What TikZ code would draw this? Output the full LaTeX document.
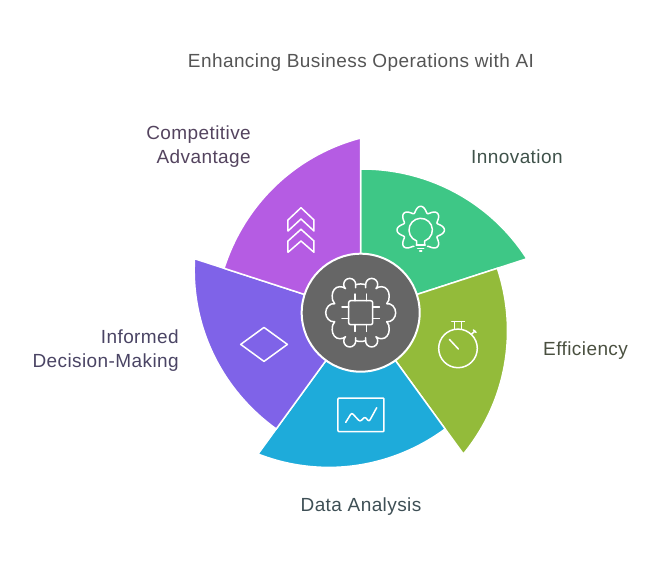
\documentclass[tikz,border=0pt]{standalone}
\usepackage{fontspec}
\setmainfont[LetterSpace=2.2]{Liberation Sans}
\definecolor{c_green}{HTML}{3EC786}
\definecolor{c_olive}{HTML}{93BB3A}
\definecolor{c_blue}{HTML}{1EABDA}
\definecolor{c_violet}{HTML}{7F63E8}
\definecolor{c_purple}{HTML}{B55CE3}
\definecolor{t_title}{HTML}{555555}
\definecolor{t_green}{HTML}{3F524A}
\definecolor{t_olive}{HTML}{4A5040}
\definecolor{t_blue}{HTML}{3E4F55}
\definecolor{t_violet}{HTML}{4A4464}
\definecolor{t_purple}{HTML}{54445F}
\begin{document}
\begin{tikzpicture}[x=1pt, y=1pt,
		wedge_style/.style={draw=white, line width=1.5pt, line join=miter},
		hub_style/.style={circle, fill=black!60, draw=white, line width=2pt, minimum size=118pt, inner sep=0pt},
		icon_style/.style={draw=white, line width=1.5pt, line cap=round, line join=round},
		text_style/.style={font=\fontsize{19}{24}\selectfont, inner sep=0pt}]

		\useasboundingbox (-360.7,-253.3) rectangle (301.3,312.7);

		\coordinate (n0) at (0,0);

		\draw[wedge_style, fill=c_green]  (n0) -- (90:143.7) .. controls (64.7:159.3) and (40.3:170.5) .. (18:174.7) -- cycle;
		\draw[wedge_style, fill=c_olive]  (n0) -- (18:143.7) .. controls (-7.3:159.3) and (-31.7:170.5) .. (-54:174.7) -- cycle;
		\draw[wedge_style, fill=c_blue]   (n0) -- (-54:143.7) .. controls (-79.3:159.3) and (-103.7:170.5) .. (-126:174.7) -- cycle;
		\draw[wedge_style, fill=c_violet] (n0) -- (-126:143.7) .. controls (-151.3:159.3) and (-175.7:170.5) .. (-198:174.7) -- cycle;
		\draw[wedge_style, fill=c_purple] (n0) -- (162:143.7) .. controls (136.7:159.3) and (112.3:170.5) .. (90:174.7) -- cycle;

		\node[hub_style] (hub) at (n0) {};

		% brain and chip
		\draw[icon_style, rounded corners=2pt] (-12,-12) rectangle (12,12);
		\draw[icon_style] (-5.8,12) -- (-5.8,18.7) (5.8,12) -- (5.8,18.7) (-5.8,-12) -- (-5.8,-18.7) (5.8,-12) -- (5.8,-18.7);
		\draw[icon_style] (12,-5.8) -- (18.7,-5.8) (12,5.8) -- (18.7,5.8) (-12,-5.8) -- (-18.7,-5.8) (-12,5.8) -- (-18.7,5.8);
		\draw[icon_style] (5,25) -- (5,28.3) arc[start angle=180, end angle=-45, radius=6]
			to[out=40, in=180] (21,26) to[out=0, in=90] (28.5,17) to[out=-90, in=45] (26,9) to[out=10, in=90] (35,0)
			to[out=-90, in=-10] (26,-9) to[out=-45, in=90] (28.5,-17) to[out=-90, in=0] (21,-26) to[out=180, in=-40] (15.2,-24)
			arc[start angle=45, end angle=-180, radius=6] -- (5,-25);
		\draw[icon_style] (-5,25) -- (-5,28.3) arc[start angle=0, end angle=225, radius=6]
			to[out=140, in=0] (-21,26) to[out=180, in=90] (-28.5,17) to[out=-90, in=135] (-26,9) to[out=170, in=90] (-35,0)
			to[out=-90, in=-170] (-26,-9) to[out=-135, in=90] (-28.5,-17) to[out=-90, in=180] (-21,-26) to[out=0, in=220] (-15.2,-24)
			arc[start angle=135, end angle=360, radius=6] -- (-5,-25);
		\draw[icon_style] (-5,28) to[bend left=15] (5,28);
		\draw[icon_style] (-5,-28) to[bend right=15] (5,-28);

		% bulb
		\draw[icon_style] plot[domain=-67.5:247.5, samples=160, smooth] ({60+20.7*cos(\x)+1.8*cos(9*\x)+1.2*cos(7*\x)},{82.7+20.7*sin(\x)+1.8*sin(9*\x)-1.2*sin(7*\x)});
		\draw[icon_style] (56,69) -- (56,71.7) arc[start angle=250, end angle=-70, radius=11.7] -- (64,69);
		\draw[icon_style] (55.5,67.7) -- (64.5,67.7) (57,64.4) -- (63,64.4) (59,61.5) -- (61,61.5);

		% stopwatch
		\draw[icon_style] (97.3,-35.7) circle[radius=19.3];
		\draw[icon_style] (91,-9) -- (103.7,-9) (93.7,-9) -- (93.7,-16.4) (101,-9) -- (101,-16.4);
		\draw[icon_style] (88.7,-26.7) -- (97.7,-36.3);
		\draw[icon_style] (111,-21.3) -- (114.3,-18.3) (112.7,-17.3) -- (115.3,-19.7);

		% chart
		\draw[icon_style, rounded corners=1pt] (-22.7,-119) rectangle (23.3,-85.3);
		\draw[icon_style, rounded corners=2pt] (-15,-109.7) -- (-9,-100) -- (-0.7,-109) -- (4.3,-104) -- (8.3,-109) -- (16,-95);

		% diamond
		\draw[icon_style] (-96.7,-14.7) -- (-73.3,-31.7) -- (-96.7,-48.7) -- (-120,-31.7) -- cycle;

		% chevrons
		\draw[icon_style] (-59.7,105) -- (-46.7,92.7) -- (-46.7,81.7) -- (-59.7,93.7) -- (-72.7,81.7) -- (-72.7,92.7) -- cycle;
		\draw[icon_style] (-59.7,83.4) -- (-46.7,71.7) -- (-46.7,60.4) -- (-59.7,71.7) -- (-72.7,60.4) -- (-72.7,71.7) -- cycle;

		\node[text_style, text=t_title, anchor=base] (title) at (0.3,245.7) {Enhancing Business Operations with AI};
		\node[text_style, text=t_green, anchor=base west] (innovation) at (110.3,149.2) {Innovation};
		\node[text_style, text=t_olive, anchor=base west] (efficiency) at (182.3,-42.8) {Efficiency};
		\node[text_style, text=t_blue, anchor=base] (analysis) at (0.3,-198.8) {Data Analysis};
		\node[text_style, text=t_purple, anchor=east, align=right] (advantage) at (-109.7,165.7) {Competitive\\Advantage};
		\node[text_style, text=t_violet, anchor=east, align=right] (decision) at (-181.7,-38.3) {Informed\\Decision-Making};
\end{tikzpicture}
\end{document}
